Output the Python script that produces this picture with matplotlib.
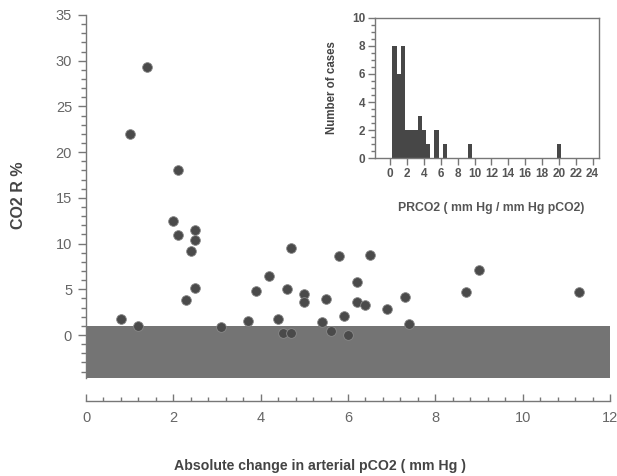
import matplotlib
matplotlib.use("Agg")
import matplotlib.pyplot as plt
from matplotlib.ticker import MultipleLocator
from matplotlib.patches import Rectangle

plt.rcParams['font.family'] = ['Liberation Sans', 'DejaVu Sans']

# scatter: absolute change in arterial pCO2 vs CO2 R %
pco2_change = [1.4, 1.0, 2.1, 2.0, 2.1, 2.5, 2.5, 2.4, 2.3, 2.5,
               0.8, 1.2, 3.1, 3.7, 3.9, 4.2, 4.4, 4.5, 4.7, 4.6,
               4.7, 5.0, 5.0, 5.4, 5.8, 6.5, 9.0, 8.7, 11.3, 6.2,
               5.5, 6.2, 6.4, 7.3, 6.9, 5.9, 7.4, 5.6, 6.0]
co2_r = [29.3, 22.0, 18.1, 12.5, 10.9, 11.5, 10.4, 9.2, 3.8, 5.1,
         1.75, 1.0, 0.9, 1.55, 4.8, 6.5, 1.8, 0.2, 0.25, 5.0,
         9.5, 4.5, 3.6, 1.4, 8.65, 8.8, 7.1, 4.7, 4.75, 5.85,
         3.9, 3.65, 3.3, 4.2, 2.85, 2.1, 1.25, 0.45, 0.05]

# inset histogram of PRCO2
prco2_bins = [0.5, 1.0, 1.5, 2.0, 2.5, 3.0, 3.5, 4.0, 4.5, 5.5, 6.5, 9.5, 20.0]
prco2_counts = [8, 6, 8, 2, 2, 2, 3, 2, 1, 2, 1, 1, 1]

# shaded zone
band_low, band_high = -4.7, 1.0

GRAY = '#666666'
DARK = '#4a4a4a'

fig = plt.figure(figsize=(6.17, 4.76), dpi=100)
ax = fig.add_axes([0.1394, 0.2059, 0.8493, 0.7626])

ax.add_patch(Rectangle((0, band_low), 12, band_high - band_low,
                       facecolor='#747474', edgecolor='none', zorder=1))
ax.plot(pco2_change, co2_r, 'o', color=DARK, markersize=7,
        markeredgecolor='#8a8a8a', markeredgewidth=0.6, zorder=3)

ax.set_xlim(0, 12)
ax.set_ylim(band_low, 35)
ax.spines['top'].set_visible(False)
ax.spines['right'].set_visible(False)
ax.spines['bottom'].set_position(('outward', 16.5))
for s in ('left', 'bottom'):
    ax.spines[s].set_color('#777777')
    ax.spines[s].set_linewidth(1.0)

ax.xaxis.set_major_locator(MultipleLocator(2))
ax.xaxis.set_minor_locator(MultipleLocator(0.4))
ax.yaxis.set_major_locator(MultipleLocator(5))
ax.yaxis.set_minor_locator(MultipleLocator(1))
ax.set_yticks(range(0, 36, 5))
ax.tick_params(axis='x', which='major', direction='in', length=5, width=1,
               color='#777777', labelcolor=GRAY, labelsize=10.5, pad=7)
ax.tick_params(axis='x', which='minor', direction='in', length=3, width=1,
               color='#777777')
ax.tick_params(axis='y', which='major', direction='out', length=6, width=1,
               color='#777777', labelcolor=GRAY, labelsize=10.5, pad=4)
ax.tick_params(axis='y', which='minor', direction='out', length=3.5, width=1,
               color='#777777')

ax.set_xlabel('Absolute change in arterial pCO2 ( mm Hg )', fontsize=10.2,
              fontweight='bold', color='#444444')
ax.xaxis.set_label_coords(0.447, -0.222)
ax.set_ylabel('CO2 R %', fontsize=11.5, fontweight='bold', color='#444444')
ax.yaxis.set_label_coords(-0.114, 0.504)

# Inset histogram
ins = fig.add_axes([0.6078, 0.6674, 0.3635, 0.2954])
ins.bar(prco2_bins, prco2_counts, width=0.5, color='#474747',
        edgecolor='none')
ins.set_xlim(-1.8, 24.8)
ins.set_ylim(0, 10)
ins.set_xticks(range(0, 25, 2))
ins.yaxis.set_major_locator(MultipleLocator(2))
ins.yaxis.set_minor_locator(MultipleLocator(0.5))
for s in ins.spines.values():
    s.set_color('#777777')
    s.set_linewidth(1.0)
ins.tick_params(axis='both', which='major', direction='out', length=5,
                width=1, color='#777777', labelcolor='#555555', labelsize=8.5,
                pad=2)
ins.tick_params(axis='y', which='minor', direction='out', length=3,
                width=1, color='#777777')
for lbl in ins.get_xticklabels() + ins.get_yticklabels():
    lbl.set_fontweight('bold')
ins.set_xlabel('PRCO2 ( mm Hg / mm Hg pCO2)', fontsize=8.8,
               fontweight='bold', color='#555555')
ins.xaxis.set_label_coords(0.52, -0.31)
ins.set_ylabel('Number of cases', fontsize=8.3, fontweight='bold',
               color='#444444')
ins.yaxis.set_label_coords(-0.165, 0.50)

fig.savefig('out.png', dpi=100)
